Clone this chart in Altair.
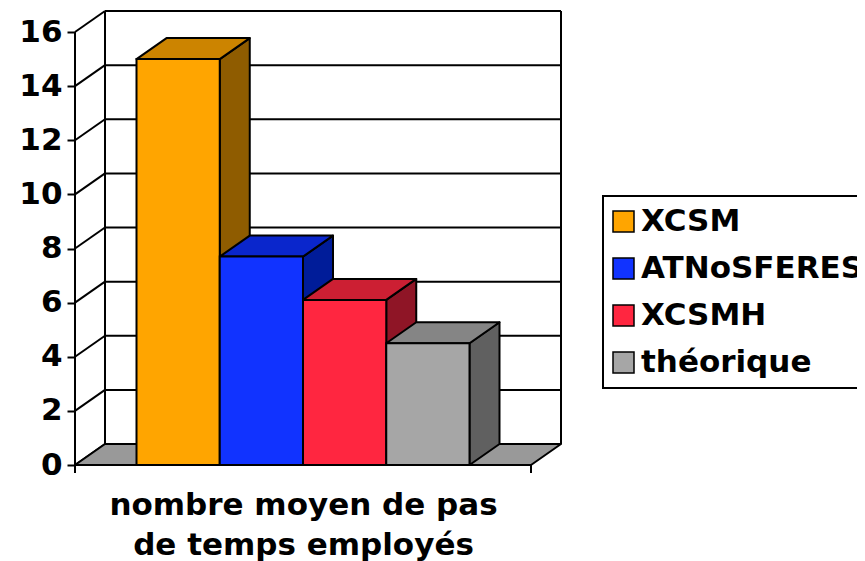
import altair as alt
import pandas as pd

# ---------------- data ----------------
categories = ["XCSM", "ATNoSFERES", "XCSMH", "théorique"]
values = [15.0, 7.7, 6.1, 4.5]
front_colors = ["#FFA500", "#1133FF", "#FF2640", "#A6A6A6"]
top_colors = ["#CC8400", "#0A26CC", "#CC1F33", "#858585"]
side_colors = ["#8F5C00", "#001C99", "#8F1526", "#606060"]
floor_color = "#999999"
y_ticks = [0, 2, 4, 6, 8, 10, 12, 14, 16]
x_title = ["nombre moyen de pas", "de temps employés"]

# ---------------- geometry / style ----------------
FONT = "DejaVu Sans"
FS = 31
YMAX = 16
PX_PER_UNIT = 433 / 16
FLOOR_W = 456          # front floor width (x units = px)
DX = 30                # depth offset in x
DY = 21 / PX_PER_UNIT  # depth offset in y (value units)
BAR_W = 83.25
TICK_LEN = 8 / PX_PER_UNIT
W = FLOOR_W + DX
H = (YMAX + DY) * PX_PER_UNIT
start = (FLOOR_W - len(categories) * BAR_W) / 2

# ---------------- tables built from the arrays ----------------
front_rows, top_rows, side_rows = [], [], []
for i, (c, v) in enumerate(zip(categories, values)):
    x0 = start + i * BAR_W
    x1 = x0 + BAR_W
    front_rows.append(dict(cat=c, x=x0, x2=x1, y=0, y2=v))
    for x, y, y2 in [(x0, v, v), (x0 + DX, v, v + DY), (x1, v, v + DY), (x1 + DX, v + DY, v + DY)]:
        top_rows.append(dict(id=c, x=x, y=y, y2=y2, fill=top_colors[i]))
    for x, y, y2 in [(x1, 0, v), (x1 + DX, DY, v + DY)]:
        side_rows.append(dict(id=c, x=x, y=y, y2=y2, fill=side_colors[i]))

floor_rows = [dict(id="floor", x=x, y=y, y2=y2, fill=floor_color)
              for x, y, y2 in [(0, 0, 0), (DX, 0, DY), (FLOOR_W, 0, DY), (W, DY, DY)]]

wall_rows = []
for t in y_ticks:
    wall_rows.append(dict(x=DX, y=t + DY, x2=W, y2=t + DY))
    wall_rows.append(dict(x=0, y=t, x2=DX, y2=t + DY))
wall_rows.append(dict(x=DX, y=DY, x2=DX, y2=YMAX + DY))
wall_rows.append(dict(x=W, y=DY, x2=W, y2=YMAX + DY))

axis_rows = [dict(x=0, y=0, x2=0, y2=YMAX),
             dict(x=0, y=0, x2=0, y2=-TICK_LEN),
             dict(x=FLOOR_W, y=0, x2=FLOOR_W, y2=-TICK_LEN)]

xscale = alt.Scale(domain=[0, W], nice=False, zero=False)
yscale = alt.Scale(domain=[0, YMAX + DY], nice=False, zero=False)
xaxis = alt.Axis(labels=False, ticks=False, domain=False, grid=False,
                 title=x_title, titleFont=FONT, titleFontSize=FS, titleFontWeight="bold",
                 titleColor="black", titleLineHeight=40, titleX=228, titleY=49,
                 titleAlign="center", titleBaseline="alphabetic", titleAnchor="start")
yaxis = alt.Axis(values=y_ticks, domain=False, grid=False, title=None,
                 tickSize=8, tickWidth=2, tickColor="black",
                 labelFont=FONT, labelFontSize=FS, labelFontWeight="bold",
                 labelColor="black", labelPadding=5)


def X(f="x"):
    return alt.X(f + ":Q", scale=xscale, axis=xaxis)


def Y(f="y"):
    return alt.Y(f + ":Q", scale=yscale, axis=yaxis)


wall = alt.Chart(pd.DataFrame(wall_rows)).mark_rule(color="black", strokeWidth=2).encode(
    x=X(), y=Y(), x2="x2:Q", y2="y2:Q")

floor = alt.Chart(pd.DataFrame(floor_rows)).mark_area(
    stroke="black", strokeWidth=2, strokeJoin="round").encode(
    x=X(), y=Y(), y2="y2:Q", fill=alt.Fill("fill:N", scale=None), detail="id:N")

axis_lines = alt.Chart(pd.DataFrame(axis_rows)).mark_rule(color="black", strokeWidth=2).encode(
    x=X(), y=Y(), x2="x2:Q", y2="y2:Q")

sides = alt.Chart(pd.DataFrame(side_rows)).mark_area(
    stroke="black", strokeWidth=2, strokeJoin="round").encode(
    x=X(), y=Y(), y2="y2:Q", fill=alt.Fill("fill:N", scale=None), detail="id:N")

tops = alt.Chart(pd.DataFrame(top_rows)).mark_area(
    stroke="black", strokeWidth=2, strokeJoin="round").encode(
    x=X(), y=Y(), y2="y2:Q", fill=alt.Fill("fill:N", scale=None), detail="id:N")

fronts = alt.Chart(pd.DataFrame(front_rows)).mark_rect(
    stroke="black", strokeWidth=2).encode(
    x=X(), x2="x2:Q", y=Y(), y2="y2:Q",
    color=alt.Color("cat:N", sort=categories,
                    scale=alt.Scale(domain=categories, range=front_colors),
                    legend=alt.Legend(title=None, orient="none", legendX=528, legendY=185,
                                      symbolType="square", symbolSize=441,
                                      symbolStrokeColor="black", symbolStrokeWidth=1.5,
                                      symbolOffset=-5,
                                      labelFont=FONT, labelFontSize=FS, labelFontWeight="bold",
                                      labelColor="black", labelOffset=2, rowPadding=15,
                                      padding=10, strokeColor="black", fillColor="white",
                                      labelLimit=400)))

chart = alt.layer(wall, floor, axis_lines, sides, tops, fronts).properties(
    width=W, height=H,
    padding={"left": 67, "top": 3, "right": 296, "bottom": 96},
    autosize=alt.AutoSizeParams(type="none"),
    background="white",
).configure_view(stroke=None).configure_legend(strokeWidth=2)

chart.save("out.html", embed_options={"renderer": "svg", "actions": False})
